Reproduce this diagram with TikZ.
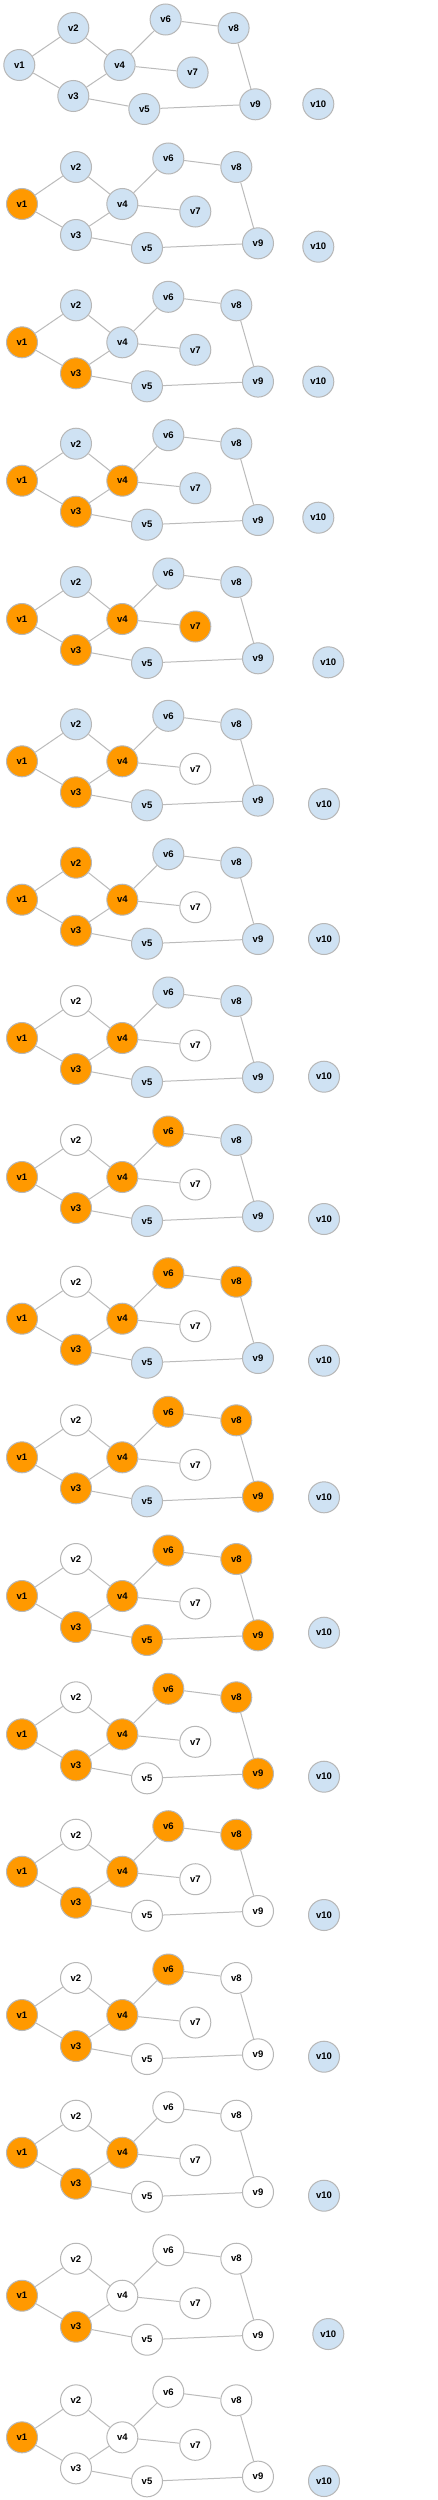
\documentclass[tikz,border=0pt]{standalone}
\usepackage{fontspec}
\setmainfont{Liberation Sans}
\definecolor{cB}{HTML}{CFE2F3}
\definecolor{cO}{HTML}{FF9900}
\definecolor{cW}{HTML}{FFFFFF}
\definecolor{cEdge}{HTML}{BBBBBB}
\definecolor{cRim}{HTML}{B7B7B7}
\begin{document}
\begin{tikzpicture}[x=1pt,y=-1pt,
  vx/.style={circle,draw=cRim,line width=1pt,minimum size=31pt,inner sep=0pt,
             font=\fontsize{9.5}{11}\selectfont\bfseries,text=black},
  ed/.style={draw=cEdge,line width=1pt}]
\useasboundingbox[fill=white] (0,0) rectangle (437,2500);
\foreach \p/\x/\y/\tx/\ty/\cA/\cB/\cC/\cD/\cE/\cF/\cG/\cH/\cI/\cJ in {
1/19.3/65/318.3/104/cB/cB/cB/cB/cB/cB/cB/cB/cB/cB,
2/22/204/318.3/246.7/cO/cB/cB/cB/cB/cB/cB/cB/cB/cB,
3/22/342.3/318.3/381.7/cO/cB/cO/cB/cB/cB/cB/cB/cB/cB,
4/22/480.7/318.3/517.7/cO/cB/cO/cO/cB/cB/cB/cB/cB/cB,
5/22/619/328.3/662.3/cO/cB/cO/cO/cB/cB/cO/cB/cB/cB,
6/22/761.3/324/804/cO/cB/cO/cO/cB/cB/cW/cB/cB/cB,
7/22/899.7/324/939/cO/cO/cO/cO/cB/cB/cW/cB/cB/cB,
8/22/1038/324/1076.7/cO/cW/cO/cO/cB/cB/cW/cB/cB/cB,
9/22/1177/324/1219/cO/cW/cO/cO/cB/cO/cW/cB/cB/cB,
10/22/1318.7/324/1360.7/cO/cW/cO/cO/cB/cO/cW/cO/cB/cB,
11/22/1457.3/324/1497.3/cO/cW/cO/cO/cB/cO/cW/cO/cO/cB,
12/22/1596/324/1632.7/cO/cW/cO/cO/cO/cO/cW/cO/cO/cB,
13/22/1734.3/324/1776.7/cO/cW/cO/cO/cW/cO/cW/cO/cO/cB,
14/22/1871.7/324/1915/cO/cW/cO/cO/cW/cO/cW/cO/cW/cB,
15/22/2015/324/2056.7/cO/cW/cO/cO/cW/cO/cW/cW/cW/cB,
16/22/2152.7/324/2195.7/cO/cW/cO/cO/cW/cW/cW/cW/cW/cB,
17/22/2295.7/328.3/2334/cO/cW/cO/cW/cW/cW/cW/cW/cW/cB,
18/22/2437.3/324/2481/cO/cW/cW/cW/cW/cW/cW/cW/cW/cB}{
  \node[vx,fill=\cJ] (p\p-v10) at (\tx,\ty) {v10};
  \begin{scope}[shift={(\x,\y)}]
    \node[vx,fill=\cA] (p\p-v1) at (0,0) {v1};
    \node[vx,fill=\cB] (p\p-v2) at (54,-37) {v2};
    \node[vx,fill=\cC] (p\p-v3) at (54,31) {v3};
    \node[vx,fill=\cD] (p\p-v4) at (100.3,0) {v4};
    \node[vx,fill=\cE] (p\p-v5) at (125,44) {v5};
    \node[vx,fill=\cF] (p\p-v6) at (146.3,-45.5) {v6};
    \node[vx,fill=\cG] (p\p-v7) at (173.3,7.5) {v7};
    \node[vx,fill=\cH] (p\p-v8) at (214.3,-37) {v8};
    \node[vx,fill=\cI] (p\p-v9) at (236,39.3) {v9};
  \end{scope}
  \draw[ed] (p\p-v1) -- (p\p-v2);
  \draw[ed] (p\p-v1) -- (p\p-v3);
  \draw[ed] (p\p-v2) -- (p\p-v4);
  \draw[ed] (p\p-v3) -- (p\p-v4);
  \draw[ed] (p\p-v3) -- (p\p-v5);
  \draw[ed] (p\p-v4) -- (p\p-v6);
  \draw[ed] (p\p-v4) -- (p\p-v7);
  \draw[ed] (p\p-v6) -- (p\p-v8);
  \draw[ed] (p\p-v8) -- (p\p-v9);
  \draw[ed] (p\p-v5) -- (p\p-v9);
}
\end{tikzpicture}
\end{document}
